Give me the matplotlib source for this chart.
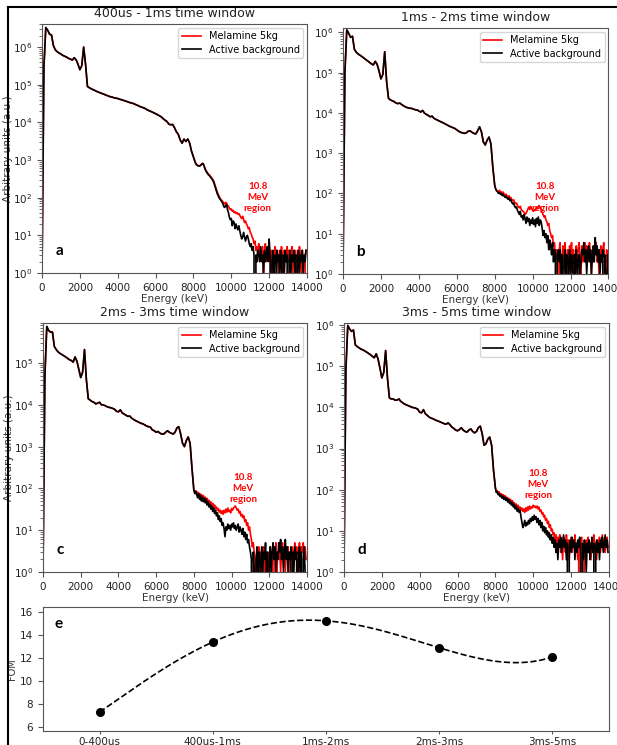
import numpy as np
import matplotlib
matplotlib.use("Agg")
import matplotlib.pyplot as plt
from matplotlib.lines import Line2D

# energy grid: 100 keV bins up to 8 MeV, 50 keV bins above
energy = np.concatenate([np.arange(0, 8000, 100), np.arange(8000, 14000, 50)])

# ---- 400us - 1ms ----
low_a = [1, 3e5, 3.3e6, 2.8e6, 2.2e6, 2.1e6, 1.1e6, 8.5e5, 7.5e5, 7e5,
         6.5e5, 6e5, 5.7e5, 5.4e5, 5e5, 4.8e5, 4.5e5, 5.2e5, 4.6e5, 3.5e5,
         2.5e5, 3.2e5, 1.0e6, 3.5e5, 9e4, 8.3e4, 7.8e4, 7.4e4, 7e4, 6.6e4,
         6.3e4, 6e4, 5.7e4, 5.5e4, 5.2e4, 5.0e4, 4.8e4, 4.7e4, 4.5e4, 4.4e4,
         4.3e4, 4.1e4, 4.0e4, 3.85e4, 3.7e4, 3.55e4, 3.4e4, 3.3e4, 3.2e4, 3.05e4,
         2.9e4, 2.75e4, 2.6e4, 2.5e4, 2.4e4, 2.25e4, 2.1e4, 2.0e4, 1.9e4, 1.8e4,
         1.7e4, 1.6e4, 1.5e4, 1.4e4, 1.25e4, 1.15e4, 1.05e4, 9.0e3, 8.6e3, 8.8e3,
         7.2e3, 5.6e3, 4.8e3, 3.4e3, 2.8e3, 3.6e3, 3.1e3, 3.6e3, 2.8e3, 1.7e3]
bg_high_a = [1200, 1000, 850, 760, 720, 700, 690, 700, 740, 780,
             800, 720, 600, 520, 470, 430, 400, 380, 350, 320,
             300, 270, 230, 190, 160, 130, 115, 100, 92, 85,
             78, 70, 58, 55, 62, 66, 48, 40, 30, 26,
             28, 18, 24, 22, 15, 20, 16, 14, 18, 13,
             10, 8, 9, 12, 9, 7, 9, 10, 8, 6,
             5, 6, 4, 5, 3, 0, 3, 2, 4, 3,
             2, 5, 2, 3, 1, 4, 2, 3, 5, 2,
             8, 3, 0, 2, 4, 1, 3, 0, 4, 2,
             3, 1, 4, 2, 0, 3, 1, 4, 2, 3,
             0, 2, 4, 1, 3, 2, 4, 1, 3, 0,
             2, 4, 1, 3, 2, 4, 1, 3, 2, 4]
mel_high_a = [1200, 1000, 860, 770, 730, 710, 700, 710, 750, 800,
              820, 740, 620, 540, 490, 450, 420, 400, 370, 340,
              320, 290, 250, 210, 175, 145, 125, 110, 98, 88,
              85, 78, 72, 68, 75, 72, 62, 60, 52, 48,
              50, 44, 46, 40, 42, 38, 40, 36, 38, 34,
              30, 28, 32, 26, 22, 24, 20, 18, 15, 16,
              12, 11, 9, 8, 6, 7, 4, 5, 3, 6,
              2, 4, 3, 5, 1, 3, 6, 2, 4, 3,
              5, 2, 4, 0, 3, 1, 5, 2, 4, 3,
              1, 4, 2, 5, 3, 0, 4, 2, 3, 5,
              2, 4, 1, 3, 5, 2, 0, 4, 3, 1,
              4, 2, 5, 3, 1, 4, 2, 0, 3, 4]

# ---- 1ms - 2ms ----
low_b = [1, 1e5, 1.15e6, 9.5e5, 7.5e5, 8e5, 3.8e5, 3.2e5, 2.9e5, 2.7e5,
         2.5e5, 2.3e5, 2.1e5, 1.95e5, 1.8e5, 1.65e5, 1.55e5, 1.9e5, 1.6e5, 1.1e5,
         7e4, 9e4, 3.3e5, 6e4, 2.3e4, 2.1e4, 2.0e4, 1.9e4, 1.75e4, 1.7e4,
         1.75e4, 1.6e4, 1.5e4, 1.4e4, 1.35e4, 1.3e4, 1.3e4, 1.25e4, 1.2e4, 1.18e4,
         1.12e4, 1.05e4, 1.15e4, 9.8e3, 9.2e3, 8.6e3, 8.0e3, 8.3e3, 7.3e3, 6.9e3,
         6.5e3, 6.2e3, 5.9e3, 5.6e3, 5.3e3, 5.0e3, 4.7e3, 4.5e3, 4.3e3, 4.1e3,
         3.8e3, 3.5e3, 3.3e3, 3.2e3, 3.1e3, 3.2e3, 3.5e3, 3.6e3, 3.3e3, 3.1e3,
         3.0e3, 3.6e3, 4.5e3, 3.4e3, 1.9e3, 1.6e3, 2.1e3, 2.5e3, 1.7e3, 450]
bg_high_b = [160, 130, 115, 110, 100, 105, 95, 100, 88, 95,
             85, 80, 86, 76, 72, 78, 66, 70, 60, 55,
             58, 48, 44, 46, 38, 34, 30, 36, 26, 28,
             22, 30, 24, 18, 26, 20, 24, 16, 22, 18,
             25, 17, 22, 15, 24, 18, 26, 16, 22, 20,
             14, 9, 12, 8, 10, 6, 9, 4, 7, 5,
             3, 6, 2, 4, 3, 0, 3, 4, 2, 4,
             1, 3, 0, 2, 4, 1, 3, 0, 2, 4,
             1, 3, 2, 0, 3, 1, 4, 2, 0, 3,
             1, 2, 4, 3, 6, 2, 4, 1, 3, 5,
             2, 4, 1, 3, 5, 2, 8, 3, 5, 2,
             4, 1, 3, 2, 4, 0, 3, 1, 0, 3]
mel_high_b = [160, 130, 120, 115, 110, 120, 105, 110, 100, 108,
              95, 90, 96, 86, 80, 88, 76, 80, 70, 66,
              70, 60, 56, 58, 50, 46, 44, 48, 40, 38,
              36, 34, 30, 32, 36, 40, 46, 40, 48, 42,
              38, 36, 40, 38, 44, 42, 48, 50, 45, 40,
              34, 30, 26, 28, 22, 20, 16, 18, 12, 10,
              8, 9, 5, 6, 3, 4, 2, 0, 4, 6,
              0, 3, 5, 2, 6, 3, 1, 4, 2, 5,
              3, 6, 2, 4, 0, 3, 5, 2, 4, 6,
              3, 1, 5, 2, 4, 6, 3, 5, 2, 4,
              6, 3, 1, 4, 2, 5, 3, 6, 2, 4,
              1, 3, 5, 2, 4, 6, 2, 0, 4, 3]

# ---- 2ms - 3ms ----
low_c = [1, 5e4, 7.5e5, 6e5, 5.5e5, 5.5e5, 2.5e5, 2.1e5, 1.85e5, 1.7e5,
         1.6e5, 1.5e5, 1.4e5, 1.3e5, 1.2e5, 1.15e5, 1.05e5, 1.4e5, 1.1e5, 7e4,
         4.5e4, 6e4, 2.1e5, 4e4, 1.4e4, 1.3e4, 1.2e4, 1.15e4, 1.05e4, 1.1e4,
         1.15e4, 1.0e4, 1.0e4, 9.5e3, 9.0e3, 8.7e3, 8.5e3, 8.2e3, 7.8e3, 7.0e3,
         6.8e3, 7.6e3, 6.4e3, 6.0e3, 5.6e3, 5.3e3, 5.4e3, 4.8e3, 4.5e3, 4.2e3,
         4.0e3, 3.8e3, 3.6e3, 3.5e3, 3.3e3, 3.1e3, 3.0e3, 2.9e3, 2.5e3, 2.4e3,
         2.2e3, 2.3e3, 2.1e3, 2.0e3, 2.0e3, 2.2e3, 2.4e3, 2.2e3, 2.1e3, 2.0e3,
         2.2e3, 2.8e3, 3.0e3, 2.0e3, 1.2e3, 1.0e3, 1.4e3, 1.7e3, 1.2e3, 300]
bg_high_c = [90, 75, 85, 70, 60, 75, 55, 68, 50, 62,
             48, 58, 45, 55, 40, 48, 36, 42, 32, 38,
             28, 34, 25, 30, 22, 26, 18, 22, 16, 19,
             13, 15, 11, 7, 12, 10, 14, 11, 13, 10,
             14, 12, 15, 11, 13, 10, 12, 14, 9, 12,
             10, 8, 11, 7, 9, 6, 8, 5, 6, 4,
             3, 2, 0, 3, 1, 0, 2, 4, 1, 3,
             0, 2, 4, 1, 3, 2, 5, 1, 3, 0,
             2, 4, 1, 3, 5, 2, 4, 1, 3, 2,
             5, 3, 6, 2, 4, 1, 3, 6, 2, 4,
             1, 3, 2, 4, 0, 3, 1, 4, 2, 3,
             0, 2, 4, 1, 3, 0, 2, 4, 1, 0]
mel_high_c = [90, 80, 88, 75, 82, 70, 76, 65, 72, 60,
              68, 56, 62, 52, 58, 48, 52, 44, 48, 40,
              44, 36, 40, 33, 36, 30, 33, 27, 30, 25,
              29, 24, 30, 26, 32, 27, 34, 28, 30, 26,
              33, 30, 34, 36, 38, 34, 30, 32, 26, 28,
              22, 24, 20, 22, 16, 18, 13, 15, 10, 12,
              8, 6, 4, 5, 3, 2, 0, 3, 2, 4,
              1, 3, 0, 2, 4, 1, 3, 2, 0, 3,
              1, 4, 2, 3, 0, 4, 2, 5, 1, 3,
              2, 4, 1, 3, 5, 2, 4, 1, 3, 2,
              4, 0, 3, 2, 4, 1, 3, 5, 2, 4,
              1, 3, 5, 2, 4, 3, 5, 2, 4, 2]

# ---- 3ms - 5ms ----
low_d = [1, 8e4, 9.8e5, 8e5, 7e5, 7.6e5, 3.3e5, 3.0e5, 2.8e5, 2.6e5,
         2.5e5, 2.35e5, 2.2e5, 2.05e5, 1.9e5, 1.75e5, 1.6e5, 2.0e5, 1.5e5, 9e4,
         5.2e4, 7e4, 2.4e5, 5e4, 1.7e4, 1.6e4, 1.6e4, 1.5e4, 1.5e4, 1.6e4,
         1.4e4, 1.3e4, 1.2e4, 1.15e4, 1.1e4, 1.05e4, 1.0e4, 9.8e3, 9.5e3, 9.0e3,
         7.6e3, 7.4e3, 8.8e3, 7.0e3, 6.4e3, 5.8e3, 5.5e3, 5.3e3, 5.0e3, 4.8e3,
         4.6e3, 4.4e3, 4.2e3, 4.0e3, 3.9e3, 4.2e3, 3.8e3, 3.3e3, 3.1e3, 2.8e3,
         2.7e3, 2.9e3, 3.2e3, 2.8e3, 2.6e3, 2.5e3, 2.8e3, 3.0e3, 2.6e3, 2.4e3,
         2.6e3, 3.2e3, 3.5e3, 2.3e3, 1.2e3, 1.3e3, 1.7e3, 1.9e3, 1.2e3, 300]
bg_high_d = [110, 85, 90, 75, 80, 68, 74, 62, 70, 58,
             66, 55, 62, 50, 58, 46, 52, 42, 48, 38,
             44, 34, 40, 30, 35, 28, 32, 22, 16, 12,
             14, 18, 13, 16, 14, 18, 15, 20, 17, 22,
             18, 24, 19, 22, 16, 20, 14, 18, 12, 16,
             10, 13, 9, 12, 8, 10, 7, 9, 6, 8,
             5, 7, 4, 6, 3, 5, 2, 6, 4, 7,
             3, 5, 8, 4, 6, 2, 5, 0, 4, 6,
             3, 7, 4, 6, 2, 5, 3, 6, 4, 7,
             3, 0, 5, 2, 6, 4, 1, 5, 3, 6,
             2, 4, 7, 3, 5, 0, 4, 6, 3, 5,
             2, 6, 4, 7, 3, 5, 8, 4, 6, 3]
mel_high_d = [110, 90, 95, 82, 88, 74, 80, 68, 76, 64,
              72, 60, 66, 56, 62, 52, 58, 48, 54, 44,
              48, 40, 45, 36, 42, 34, 38, 32, 36, 30,
              34, 28, 36, 30, 38, 32, 40, 34, 38, 36,
              42, 38, 40, 36, 40, 34, 38, 30, 32, 26,
              28, 22, 24, 18, 20, 15, 17, 12, 14, 10,
              11, 8, 9, 6, 8, 5, 7, 4, 8, 3,
              6, 2, 7, 5, 3, 8, 4, 6, 2, 5,
              7, 3, 6, 4, 8, 3, 5, 2, 6, 0,
              4, 7, 3, 0, 5, 2, 6, 4, 7, 3,
              5, 2, 6, 4, 8, 3, 5, 2, 6, 4,
              7, 3, 5, 8, 4, 6, 3, 5, 7, 4]

# figure of merit per time window
windows = ["0-400us", "400us-1ms", "1ms-2ms", "2ms-3ms", "3ms-5ms"]
fom = [7.3, 13.4, 15.25, 12.9, 12.1]

panels = [
    ("400us - 1ms time window", low_a, mel_high_a, bg_high_a, "a", 4.1e6, (11400, 100)),
    ("1ms - 2ms time window", low_b, mel_high_b, bg_high_b, "b", 1.28e6, (10650, 80)),
    ("2ms - 3ms time window", low_c, mel_high_c, bg_high_c, "c", 9.06e5, (10600, 100)),
    ("3ms - 5ms time window", low_d, mel_high_d, bg_high_d, "d", 1.12e6, (10250, 135)),
]
rects = [
    [0.0681, 0.6336, 0.4295, 0.3342],
    [0.5559, 0.6322, 0.4303, 0.3302],
    [0.0697, 0.2322, 0.4279, 0.3342],
    [0.5575, 0.2322, 0.4295, 0.3342],
]

plt.rcParams['axes.edgecolor'] = '#555555'
plt.rcParams['xtick.color'] = '#555555'
plt.rcParams['ytick.color'] = '#555555'
plt.rcParams['xtick.labelcolor'] = '#222222'
plt.rcParams['ytick.labelcolor'] = '#222222'

fig = plt.figure(figsize=(6.17, 7.45), dpi=100)

for i, (title, low, mel_high, bg_high, letter, ytop, txt) in enumerate(panels):
    ax = fig.add_axes(rects[i])
    ax.set_yscale('log')
    mel = np.array(low + mel_high, dtype=float)
    bg = np.array(low + bg_high, dtype=float)
    ax.plot(energy, mel, color='red', lw=1.2, label='Melamine 5kg')
    ax.plot(energy, bg, color='black', lw=1.2, label='Active background')
    ax.set_xlim(0, 14000)
    ax.set_ylim(1, ytop)
    ax.set_xticks(np.arange(0, 14001, 2000))
    ax.tick_params(labelsize=7.5)
    ax.set_title(title, fontsize=9, color='#222222', pad=5)
    ax.set_xlabel('Energy (keV)', fontsize=7.5, color='#333333', labelpad=1)
    if i in (0, 2):
        ax.set_ylabel('Arbitrary units (a.u.)', fontsize=7.5, color='#333333', labelpad=0)
    ax.legend(loc='upper right', fontsize=7, handlelength=2.0, borderaxespad=0.4,
              borderpad=0.35, labelspacing=0.35)
    ax.text(txt[0], txt[1], '10.8\nMeV\nregion', color='red', fontsize=7,
            fontweight='bold', family='Lato', ha='center', va='center', linespacing=1.25)
    ax.text(0.05, 0.06, letter, transform=ax.transAxes, fontsize=11,
            fontweight='bold', family='Lato', ha='left', va='bottom')

# FOM panel
axe = fig.add_axes([0.0697, 0.0188, 0.9173, 0.1664])
xpos = np.arange(len(windows))
coef = np.polyfit(xpos, fom, len(fom) - 1)
xs = np.linspace(0, len(windows) - 1, 300)
axe.plot(xs, np.polyval(coef, xs), color='black', lw=1.2, ls='--')
axe.plot(xpos, fom, 'o', color='black', ms=5.5)
axe.set_xlim(-0.5, 4.5)
axe.set_ylim(5.65, 16.45)
axe.set_yticks([6, 8, 10, 12, 14, 16])
axe.set_xticks(xpos)
axe.set_xticklabels(windows)
axe.tick_params(labelsize=7.5)
axe.tick_params(axis='x', length=2.5, pad=1.5)
axe.set_ylabel('FOM', fontsize=7, color='#333333', labelpad=2)
axe.text(0.02, 0.86, 'e', transform=axe.transAxes, fontsize=11,
         fontweight='bold', family='Lato', ha='left', va='center')

# frame lines around the panel group
fig.add_artist(Line2D([8 / 617, 8 / 617], [0, 1 - 7 / 745], transform=fig.transFigure,
                      color='black', lw=1.5))
fig.add_artist(Line2D([8 / 617, 1], [1 - 7 / 745, 1 - 7 / 745], transform=fig.transFigure,
                      color='black', lw=1.5))

fig.savefig('out.png', dpi=100)
